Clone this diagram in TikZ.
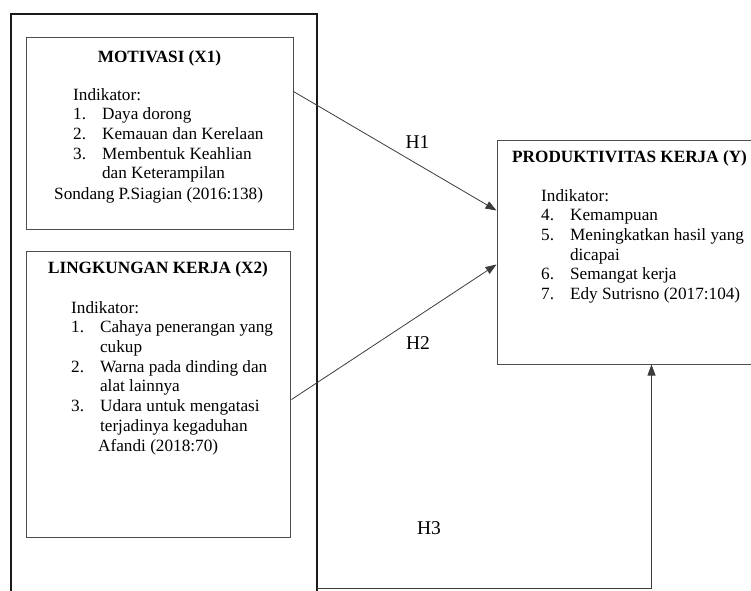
\documentclass[tikz,border=0pt]{standalone}
\usepackage{fontspec}
\setmainfont{Liberation Serif}
\usetikzlibrary{arrows.meta,positioning,calc}
\definecolor{ink}{HTML}{1A1A1A}
\definecolor{edge}{HTML}{4D4D4D}
\tikzset{var/.style={draw=edge,line width=1pt,inner sep=0pt},
  hyp/.style={draw=ink!85,line width=.8pt,-{Triangle[length=11pt,width=8pt]}},
  frame/.style={draw=ink,line width=1.7pt},
  txt/.style={inner sep=0pt,anchor=base west,font=\fontsize{17.2}{19.7}\selectfont},
  ttl/.style={txt,anchor=base,font=\fontsize{17.2}{19.7}\selectfont\bfseries},
  hlab/.style={inner sep=0pt,anchor=base,font=\fontsize{19.5}{22}\selectfont}}
\newcommand{\indlist}[1]{\begin{tabular}[t]{@{}l@{\hspace{16pt}}l@{}}#1\end{tabular}}

\begin{document}
\begin{tikzpicture}[x=1pt,y=-1pt]
\useasboundingbox (0,0) rectangle (751,590);
% outer frame round X1 and X2
\draw[frame] (11,592) -- (11,14) -- (317,14) -- (317,592);
\coordinate (fr) at (317,588.5);
% variables
\node[var,minimum width=267pt,minimum height=192pt] (x1) at (159.5,133) {};
\node[var,minimum width=264pt,minimum height=286pt] (x2) at (158,394) {};
\node[var,minimum width=262pt,minimum height=224pt] (y) at (628,252) {};
\node[ttl] (x1t) at (159.5,62) {MOTIVASI (X1)};
\node[txt] (x1i) at (73,100) {\indlist{\multicolumn{2}{@{}l}{Indikator:}\\
 1.&Daya dorong\\2.&Kemauan dan Kerelaan\\3.&Membentuk Keahlian\\&dan Keterampilan}};
\node[txt] (x1s) at (54,199) {Sondang P.Siagian (2016:138)};
\node[ttl] (x2t) at (158,273) {LINGKUNGAN KERJA (X2)};
\node[txt] (x2i) at (71,313) {\indlist{\multicolumn{2}{@{}l}{Indikator:}\\
 1.&Cahaya penerangan yang\\&cukup\\2.&Warna pada dinding dan\\&alat lainnya\\
 3.&Udara untuk mengatasi\\&terjadinya kegaduhan}};
\node[txt] (x2s) at (98,451) {Afandi (2018:70)};
\node[ttl,anchor=base west] (yt) at (512,162) {PRODUKTIVITAS KERJA (Y)};
\node[txt] (yi) at (541,201) {\indlist{\multicolumn{2}{@{}l}{Indikator:}\\
 4.&Kemampuan\\5.&Meningkatkan hasil yang\\&dicapai\\6.&Semangat kerja\\7.&Edy Sutrisno (2017:104)}};
% hypotheses
\draw[hyp] ($(x1.north east)+(0,55)$) -- ($(y.north west)+(0,71)$);
\draw[hyp] ($(x2.north east)+(1,149)$) -- ($(y.north west)+(0,125)$);
\draw[hyp] (fr) -| ($(y.south west)+(155,0)$);
\node[hlab] (h1) at (417.5,148) {H1};
\node[hlab] (h2) at (418,349) {H2};
\node[hlab] (h3) at (429,534) {H3};
\end{tikzpicture}
\end{document}
